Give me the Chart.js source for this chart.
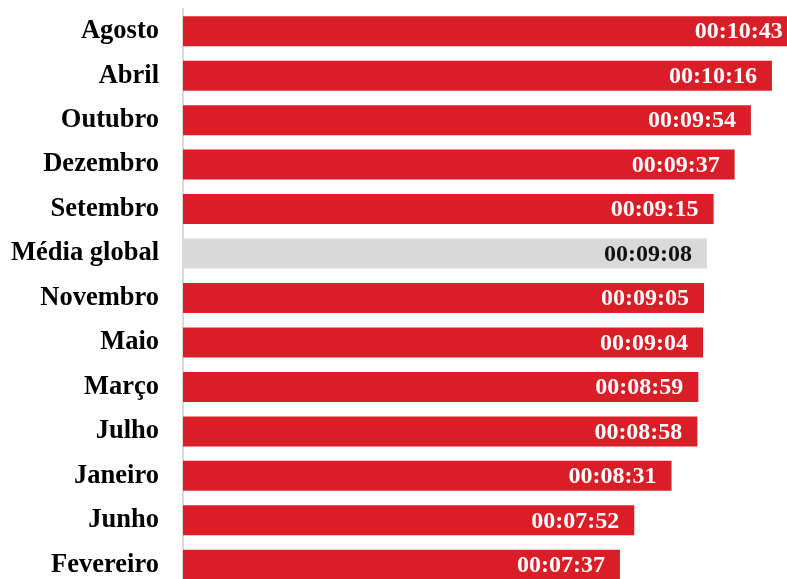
<!DOCTYPE html>
<html>
<head>
<meta charset="utf-8">
<script src="https://cdn.jsdelivr.net/npm/chart.js@4.4.1/dist/chart.umd.min.js"></script>
<style>
  html, body { margin: 0; padding: 0; background: #ffffff; overflow: hidden; }
  #wrap { position: absolute; left: 0; top: 0; width: 814px; height: 590px; }
</style>
</head>
<body>
<div id="wrap"><canvas id="c" width="814" height="590"></canvas></div>
<script>
// Categories (top to bottom)
const categories = ["Agosto", "Abril", "Outubro", "Dezembro", "Setembro", "Média global",
  "Novembro", "Maio", "Março", "Julho", "Janeiro", "Junho", "Fevereiro"];
// Average duration, in seconds (00:10:43 = 643 s, etc.)
const durationSeconds = [643, 616, 594, 577, 555, 548, 545, 544, 539, 538, 511, 472, 457];
// Which category is the global average (highlighted in grey)
const highlightLabel = "Média global";

const RED = "#DA1E27";
const GREY = "#D9D9D9";

function fmt(s) {
  const h = Math.floor(s / 3600), m = Math.floor((s % 3600) / 60), sec = s % 60;
  const p = n => String(n).padStart(2, "0");
  return p(h) + ":" + p(m) + ":" + p(sec);
}

const barColors = categories.map(c => c === highlightLabel ? GREY : RED);
const labelColors = categories.map(c => c === highlightLabel ? "#111111" : "#FFFFFF");

const valueLabels = {
  id: "valueLabels",
  afterDatasetsDraw(chart) {
    const ctx = chart.ctx;
    const meta = chart.getDatasetMeta(0);
    ctx.save();
    ctx.font = "bold 24px 'Liberation Serif', 'Times New Roman', serif";
    ctx.textAlign = "right";
    ctx.textBaseline = "middle";
    meta.data.forEach((bar, i) => {
      ctx.fillStyle = labelColors[i];
      ctx.fillText(fmt(durationSeconds[i]), bar.x - 15, bar.y + 1);
    });
    ctx.restore();
  }
};

new Chart(document.getElementById("c"), {
  type: "bar",
  data: {
    labels: categories,
    datasets: [{
      data: durationSeconds,
      backgroundColor: barColors,
      borderWidth: 0,
      barPercentage: 0.675,
      categoryPercentage: 1.0
    }]
  },
  options: {
    indexAxis: "y",
    responsive: false,
    animation: false,
    layout: { padding: { top: 9, bottom: 3, left: 0, right: 0 } },
    plugins: { legend: { display: false }, tooltip: { enabled: false } },
    scales: {
      x: {
        display: false,
        min: 0,
        max: 660
      },
      y: {
        grid: { display: false, drawTicks: false },
        border: { display: true, color: "#D9D9D9", width: 2 },
        ticks: {
          padding: 24,
          color: "#000000",
          font: { family: "'Liberation Serif', 'Times New Roman', serif", size: 26.5, weight: "bold" }
        },
        afterFit(scale) {
          scale.width = 183;
          scale.paddingTop = 0;
          scale.paddingBottom = 0;
        }
      }
    }
  },
  plugins: [valueLabels]
});
</script>
</body>
</html>
